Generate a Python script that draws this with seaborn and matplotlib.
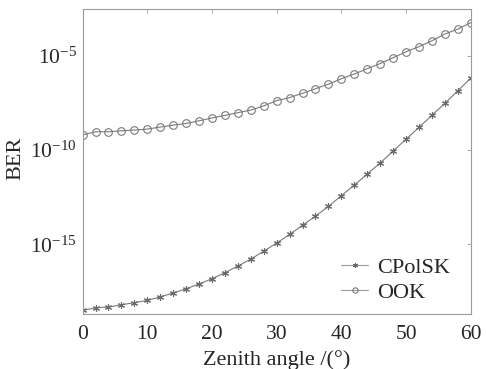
import numpy as np
import pandas as pd
import matplotlib
matplotlib.use("Agg")
import matplotlib.pyplot as plt
import seaborn as sns
from matplotlib.ticker import NullLocator, FuncFormatter

sns.set_style("white")
plt.rcParams['font.family'] = ['Liberation Serif', 'DejaVu Serif']
plt.rcParams['mathtext.fontset'] = 'custom'
plt.rcParams['mathtext.rm'] = 'Liberation Serif'
plt.rcParams['mathtext.it'] = 'Liberation Serif:italic'

zenith = [0, 2, 4, 6, 8, 10, 12, 14, 16, 18, 20, 22, 24, 26, 28, 30,
          32, 34, 36, 38, 40, 42, 44, 46, 48, 50, 52, 54, 56, 58, 60]
cpolsk_log10 = [-18.50, -18.36, -18.32, -18.20, -18.09, -17.97, -17.78, -17.58,
                -17.35, -17.10, -16.82, -16.50, -16.15, -15.78, -15.36, -14.93,
                -14.47, -13.99, -13.50, -12.99, -12.42, -11.86, -11.27, -10.69,
                -10.05, -9.43, -8.80, -8.16, -7.53, -6.86, -6.19]
ook_log10 = [-9.20, -9.03, -9.03, -8.98, -8.94, -8.89, -8.78, -8.68,
             -8.59, -8.45, -8.30, -8.16, -8.02, -7.88, -7.66, -7.38,
             -7.22, -6.99, -6.75, -6.51, -6.22, -5.97, -5.69, -5.42,
             -5.11, -4.79, -4.52, -4.21, -3.85, -3.59, -3.25]

df_c = pd.DataFrame({"x": zenith, "y": np.power(10.0, cpolsk_log10)})
df_o = pd.DataFrame({"x": zenith, "y": np.power(10.0, ook_log10)})

fig = plt.figure(figsize=(4.86, 3.69), dpi=100)
ax = fig.add_axes([0.170, 0.149, 0.7985, 0.8258])

line_col = "#7a7a7a"
sns.lineplot(data=df_c, x="x", y="y", ax=ax, color=line_col, linewidth=0.8,
             marker=(6, 2, 0), markersize=5, markeredgewidth=0.8,
             markeredgecolor="#6a6a6a", label="CPolSK")
sns.lineplot(data=df_o, x="x", y="y", ax=ax, color=line_col, linewidth=0.8,
             marker="o", markersize=5.5, markerfacecolor="none",
             markeredgewidth=0.8, markeredgecolor=line_col, label="OOK")

ax.set_yscale("log")
ax.set_xlim(0, 60)
ax.set_ylim(10**-18.69, 10**-2.54)
ax.set_xticks([0, 10, 20, 30, 40, 50, 60])
ax.set_yticks([1e-15, 1e-10, 1e-5])
ax.yaxis.set_minor_locator(NullLocator())
ax.yaxis.set_major_formatter(FuncFormatter(lambda v, p: r"$10^{%d}$" % int(round(np.log10(v)))))

for s in ax.spines.values():
    s.set_color("#9a9a9a")
    s.set_linewidth(0.8)
ax.tick_params(direction="in", length=3, width=0.6, color="#9a9a9a",
               top=True, right=True, labelsize=15.5)
ax.tick_params(axis="x", pad=8)
ax.tick_params(axis="y", pad=4)

ax.set_xlabel("Zenith angle /(°)", fontsize=16, labelpad=4)
ax.set_ylabel("BER", fontsize=16)
ax.yaxis.set_label_coords(-0.148, 0.51)

leg = ax.legend(loc="lower right", frameon=False, fontsize=16,
                handlelength=1.2, handletextpad=0.4, labelspacing=0.2,
                borderaxespad=0.1, markerscale=0.7, bbox_to_anchor=(0.975, 0.0))
for h in leg.get_lines():
    h.set_color("#9a9a9a")

fig.savefig("out.png", dpi=100)
